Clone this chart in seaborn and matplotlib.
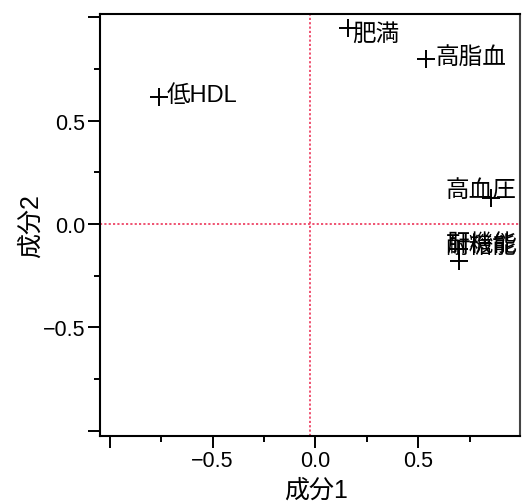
import matplotlib
matplotlib.use("Agg", force=True)
import matplotlib.pyplot as plt
from matplotlib.ticker import FixedLocator, FixedFormatter
import pandas as pd
import seaborn as sns

# principal component loadings
ITEMS = ["低HDL", "肥満", "高脂血", "高血圧", "肝機能", "耐糖能"]
COMP1 = [-0.761, 0.158, 0.537, 0.852, 0.698, 0.698]
COMP2 = [0.615, 0.948, 0.798, 0.126, -0.119, -0.181]
REF_X = -0.025
REF_Y = 0.0
MAJOR_TICKS = [-1.0, -0.5, 0.0, 0.5, 1.0]
MAJOR_LABELS = ["", "−0.5", "0.0", "0.5", ""]
MINOR_TICKS = [-0.75, -0.25, 0.25, 0.75]

# label placement in pixels relative to each marker (JMP nudges labels inside the frame)
LABEL_OFFSETS = {
    "低HDL": (8, 2),
    "肥満": (4, -6),
    "高脂血": (10, 2),
    "高血圧": (-45, 8),
    "肝機能": (-13, 5),
    "耐糖能": (-13, 16),
}

frame = pd.DataFrame({"item": ITEMS, "comp1": COMP1, "comp2": COMP2})

sns.set_style("white")
plt.rcParams["font.family"] = ["Liberation Sans", "Noto Sans CJK JP", "DejaVu Sans"]
plt.rcParams["text.color"] = "black"
plt.rcParams["axes.labelcolor"] = "black"
plt.rcParams["xtick.color"] = "black"
plt.rcParams["ytick.color"] = "black"

fig = plt.figure(figsize=(5.23, 5.02), dpi=100)
ax = fig.add_axes([0.1912, 0.130, 0.8031, 0.840])

ax.axvline(REF_X, color="#ee4466", linestyle=(0, (1.2, 1.2)), linewidth=1.3, zorder=1)
ax.axhline(REF_Y, color="#ee4466", linestyle=(0, (1.2, 1.2)), linewidth=1.3, zorder=1)

sns.scatterplot(
    data=frame,
    x="comp1",
    y="comp2",
    marker="+",
    s=150,
    color="black",
    linewidth=1.4,
    legend=False,
    ax=ax,
    zorder=3,
)

for name, x, y in zip(ITEMS, COMP1, COMP2):
    dx, dy = LABEL_OFFSETS[name]
    ax.annotate(
        name,
        (x, y),
        xytext=(dx, dy),
        textcoords="offset pixels",
        ha="left",
        va="center",
        fontsize=17,
        color="black",
        zorder=4,
    )

ax.set_xlim(-1.048, 0.995)
ax.set_ylim(-1.024, 1.016)

for axis in (ax.xaxis, ax.yaxis):
    axis.set_major_locator(FixedLocator(MAJOR_TICKS))
    axis.set_major_formatter(FixedFormatter(MAJOR_LABELS))
    axis.set_minor_locator(FixedLocator(MINOR_TICKS))

ax.tick_params(axis="both", which="both", direction="out", color="black", width=1.4, labelsize=15.5)
ax.tick_params(axis="both", which="both", bottom=True, left=True, top=False, right=False)
ax.tick_params(axis="x", which="major", length=8.5, pad=2)
ax.tick_params(axis="x", which="minor", length=4)
ax.tick_params(axis="y", which="major", length=9, pad=1.5)
ax.tick_params(axis="y", which="minor", length=4)

for side in ["left", "bottom", "top", "right"]:
    ax.spines[side].set_visible(True)
    ax.spines[side].set_color("black")
    ax.spines[side].set_linewidth(1.5)
ax.spines["right"].set_color("#444444")

ax.set_xlabel("成分1", fontsize=18)
ax.set_ylabel("成分2", fontsize=18)
ax.xaxis.set_label_coords(0.515, -0.100)
ax.yaxis.set_label_coords(-0.136, 0.5)
ax.grid(False)

fig.savefig("out.png", dpi=100)
plt.close(fig)
